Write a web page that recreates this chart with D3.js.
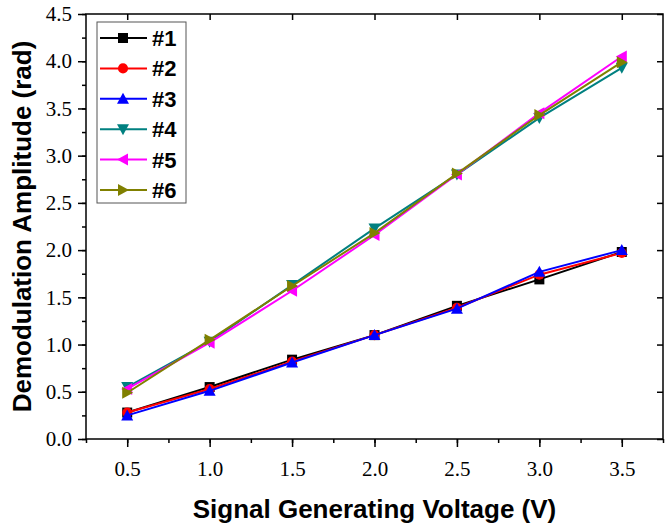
<!DOCTYPE html>
<html><head><meta charset="utf-8">
<script src="https://cdn.jsdelivr.net/npm/d3@7"></script>
<style>body{margin:0;background:#fff}svg{display:block}</style>
</head><body>
<svg id="c" width="671" height="528"></svg>
<script>
const voltages = [0.5, 1.0, 1.5, 2.0, 2.5, 3.0, 3.5];
const s1 = [0.28, 0.55, 0.84, 1.10, 1.41, 1.69, 1.98];
const s2 = [0.28, 0.53, 0.82, 1.10, 1.39, 1.74, 1.97];
const s3 = [0.25, 0.51, 0.81, 1.10, 1.38, 1.77, 2.00];
const s4 = [0.55, 1.03, 1.63, 2.23, 2.80, 3.40, 3.93];
const s5 = [0.53, 1.02, 1.57, 2.16, 2.80, 3.45, 4.05];
const s6 = [0.49, 1.05, 1.62, 2.18, 2.81, 3.43, 3.99];
const seriesNames = ["#1", "#2", "#3", "#4", "#5", "#6"];
const seriesColors = ["#000000", "#ff0000", "#0000ff", "#008080", "#ff00ff", "#808000"];
const seriesMarkers = ["square", "circle", "up", "down", "left", "right"];
const xTicks = [0.5, 1.0, 1.5, 2.0, 2.5, 3.0, 3.5];
const yTicks = [0.0, 0.5, 1.0, 1.5, 2.0, 2.5, 3.0, 3.5, 4.0, 4.5];
const xTitle = "Signal Generating Voltage (V)";
const yTitle = "Demodulation Amplitude (rad)";

const allSeries = [s1, s2, s3, s4, s5, s6];
const svg = d3.select("#c");
const L = 86, R = 663, T = 14, B = 439;
const x = d3.scaleLinear().domain([0.25, 3.75]).range([L, R]);
const y = d3.scaleLinear().domain([0, 4.5]).range([B, T]);

function markerPath(type, size) {
  const h = size / 2;
  switch (type) {
    case "square": return `M${-h},${-h}H${h}V${h}H${-h}Z`;
    case "circle": return d3.symbol(d3.symbolCircle, size * size * 0.8)();
    case "up": return `M0,${-h - 1}L${h + 1},${h}L${-h - 1},${h}Z`;
    case "down": return `M0,${h + 1}L${h + 1},${-h}L${-h - 1},${-h}Z`;
    case "left": return `M${-h - 1},0L${h},${-h - 1}L${h},${h + 1}Z`;
    case "right": return `M${h + 1},0L${-h},${-h - 1}L${-h},${h + 1}Z`;
  }
}

// frame
svg.append("rect").attr("x", L).attr("y", T).attr("width", R - L).attr("height", B - T)
  .attr("fill", "none").attr("stroke", "#000").attr("stroke-width", 1.5);

// axes
const xMinor = d3.range(0.25, 3.76, 0.25);
const yMinor = d3.range(0, 4.51, 0.25);
const fontSerif = "'Liberation Serif', 'Times New Roman', serif";
const gx = svg.append("g").attr("transform", `translate(0,${B})`)
  .call(d3.axisBottom(x).tickValues(xTicks).tickFormat(d3.format(".1f")).tickSize(8).tickPadding(14));
gx.select(".domain").remove();
gx.selectAll("line").attr("stroke-width", 1.5);
gx.selectAll("text").attr("font-family", fontSerif).attr("font-size", 21).attr("fill", "#000");
svg.append("g").attr("transform", `translate(0,${B})`)
  .call(d3.axisBottom(x).tickValues(xMinor).tickFormat("").tickSize(4))
  .call(g => { g.select(".domain").remove(); g.selectAll("line").attr("stroke-width", 1.5); });
// top mirror ticks (inward)
svg.append("g").attr("transform", `translate(0,${T})`)
  .call(d3.axisBottom(x).tickValues(xTicks).tickFormat("").tickSize(6))
  .call(g => { g.select(".domain").remove(); g.selectAll("line").attr("stroke-width", 1.5); });

const gy = svg.append("g").attr("transform", `translate(${L},0)`)
  .call(d3.axisLeft(y).tickValues(yTicks).tickFormat(d3.format(".1f")).tickSize(8).tickPadding(6));
gy.select(".domain").remove();
gy.selectAll("line").attr("stroke-width", 1.5);
gy.selectAll("text").attr("font-family", fontSerif).attr("font-size", 21).attr("fill", "#000");
svg.append("g").attr("transform", `translate(${L},0)`)
  .call(d3.axisLeft(y).tickValues(yMinor).tickFormat("").tickSize(4))
  .call(g => { g.select(".domain").remove(); g.selectAll("line").attr("stroke-width", 1.5); });
// right mirror ticks (inward)
svg.append("g").attr("transform", `translate(${R},0)`)
  .call(d3.axisLeft(y).tickValues(yTicks).tickFormat("").tickSize(6))
  .call(g => { g.select(".domain").remove(); g.selectAll("line").attr("stroke-width", 1.5); });

// titles
const fontSans = "'Liberation Sans', Arial, sans-serif";
svg.append("text").attr("x", (L + R) / 2).attr("y", 518).attr("text-anchor", "middle")
  .attr("font-family", fontSans).attr("font-weight", "bold").attr("font-size", 26).text(xTitle);
svg.append("text").attr("transform", `translate(31,${(T + B) / 2}) rotate(-90)`).attr("text-anchor", "middle")
  .attr("font-family", fontSans).attr("font-weight", "bold").attr("font-size", 26).text(yTitle);

// series
const line = d3.line().x((d, i) => x(voltages[i])).y(d => y(d));
allSeries.forEach((s, k) => {
  const g = svg.append("g");
  g.append("path").attr("d", line(s)).attr("fill", "none").attr("stroke", seriesColors[k]).attr("stroke-width", 2);
  g.selectAll("path.m").data(s).enter().append("path").attr("class", "m")
    .attr("transform", (d, i) => `translate(${x(voltages[i])},${y(d)})`)
    .attr("d", markerPath(seriesMarkers[k], 10)).attr("fill", seriesColors[k]);
});

// legend
const lg = svg.append("g");
lg.append("rect").attr("x", 97).attr("y", 22).attr("width", 89).attr("height", 181)
  .attr("fill", "#fff").attr("stroke", "#555").attr("stroke-width", 1);
seriesNames.forEach((n, k) => {
  const yy = 38 + k * 30.4;
  lg.append("line").attr("x1", 100).attr("x2", 147).attr("y1", yy).attr("y2", yy)
    .attr("stroke", seriesColors[k]).attr("stroke-width", 2);
  lg.append("path").attr("transform", `translate(123,${yy})`).attr("d", markerPath(seriesMarkers[k], 10))
    .attr("fill", seriesColors[k]);
  lg.append("text").attr("x", 152).attr("y", yy + 8).attr("font-family", fontSans)
    .attr("font-weight", "bold").attr("font-size", 22).text(n);
});
</script>
</body></html>
